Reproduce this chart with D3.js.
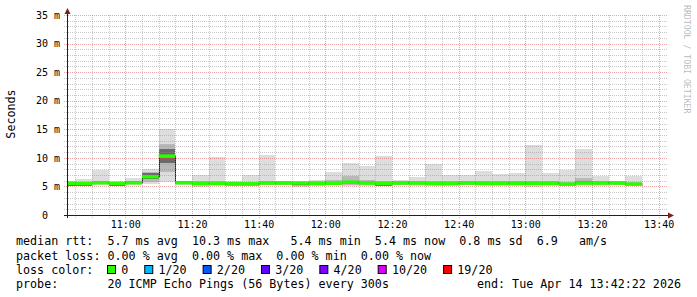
<!DOCTYPE html>
<html>
<head>
<meta charset="utf-8">
<script src="https://cdn.jsdelivr.net/npm/d3@7"></script>
<style>
  body { margin: 0; background: #fff; }
  svg { display: block; }
  text { font-family: "DejaVu Sans Mono", monospace; fill: #000; }
  .legend { font-size: 11.7px; white-space: pre; }
  .tick text { font-size: 10px; white-space: pre; }
</style>
</head>
<body>
<div id="chart"></div>
<script>
// SmokePing style latency graph, 5 minute steps, 20 pings per step
const day = "2026-04-14 ";
const viewStart = "10:42:30";
const viewEnd   = "13:42:30";

const times = ["10:40","10:45","10:50","10:55","11:00","11:05","11:10","11:15","11:20","11:25",
               "11:30","11:35","11:40","11:45","11:50","11:55","12:00","12:05","12:10","12:15",
               "12:20","12:25","12:30","12:35","12:40","12:45","12:50","12:55","13:00","13:05",
               "13:10","13:15","13:20","13:25","13:30"];

// values in ms
const median   = [5.55,5.5,5.65,5.5,5.65,6.7,10.3,5.65,5.5,5.5,5.45,5.45,5.6,5.6,5.6,5.5,5.55,5.75,5.6,5.5,
                  5.6,5.6,5.5,5.5,5.6,5.55,5.55,5.55,5.55,5.55,5.4,5.6,5.6,5.6,5.4];
const smokeMin = [5.1,5.1,5.2,5.1,5.25,5.5,5.8,5.25,4.95,5.2,5.15,5.15,5.2,5.2,4.9,5.0,5.2,5.1,5.15,5.0,
                  5.2,5.1,5.05,5.1,5.2,5.15,5.15,5.15,4.95,5.15,5.1,5.05,5.05,5.2,5.15];
const smokeP10 = [5.1,5.1,5.35,5.1,5.35,5.85,7.6,5.35,5.2,5.2,5.15,5.15,5.3,5.3,5.1,5.2,5.25,5.3,5.3,5.0,
                  5.3,5.3,5.2,5.2,5.3,5.25,5.25,5.25,5.2,5.25,5.15,5.2,5.2,5.3,5.2];
const smokeP25 = [5.15,5.15,5.5,5.15,5.5,6.35,9.05,5.5,5.35,5.35,5.3,5.3,5.45,5.45,5.3,5.35,5.4,5.5,5.45,5.05,
                  5.45,5.45,5.35,5.35,5.45,5.4,5.4,5.4,5.35,5.4,5.25,5.35,5.35,5.45,5.3];
const smokeP75 = [5.7,5.65,5.8,5.65,5.8,7.35,11.55,5.8,5.65,5.65,5.6,5.6,5.75,5.75,5.75,5.65,5.7,5.9,5.75,5.65,
                  5.75,5.75,5.65,5.65,5.75,5.7,5.7,5.7,5.7,5.7,5.55,5.9,5.75,5.75,5.55];
const smokeP90 = [5.8,5.8,6.0,5.8,6.0,7.6,12.5,5.8,5.9,5.9,5.8,5.8,5.95,5.9,5.85,5.9,6.2,6.8,6.1,5.9,
                  5.9,5.9,6.0,5.9,5.9,5.9,5.9,5.9,6.0,5.9,5.7,6.5,5.95,5.9,5.7];
const smokeMax = [5.9,6.3,7.9,6.0,6.4,8.0,15.1,5.8,7.0,10.15,5.95,7.0,10.5,5.9,5.85,6.1,7.6,9.15,8.6,10.4,
                  6.1,6.7,8.9,7.0,7.0,7.7,7.1,7.3,12.25,7.3,7.9,11.55,6.9,5.95,6.9];

const yTicks = [0, 5, 10, 15, 20, 25, 30, 35];

const legendLines = [
  "median rtt:  5.7 ms avg  10.3 ms max   5.4 ms min  5.4 ms now  0.8 ms sd  6.9   am/s",
  "packet loss: 0.00 % avg  0.00 % max  0.00 % min  0.00 % now"
];
const lossLabels = ["0", "1/20", "2/20", "3/20", "4/20", "10/20", "19/20"];
const lossColors = ["#26ff00", "#00b8ff", "#0059ff", "#5e00ff", "#7e00ff", "#dd00ff", "#ff0000"];
const probeText = "probe:       20 ICMP Echo Pings (56 Bytes) every 300s";
const endText = "end: Tue Apr 14 13:42:22 2026";

const width = 697, height = 297;
const plotL = 67, plotR = 667, plotT = 15, plotB = 215;
const charW = 7.04;

const parse = d3.timeParse("%Y-%m-%d %H:%M:%S");
const x = d3.scaleTime()
  .domain([parse(day + viewStart), parse(day + viewEnd)])
  .range([plotL, plotR]);
const y = d3.scaleLinear().domain([0, 35]).range([plotB, plotT]);

const steps = times.map((t, i) => {
  const t0 = parse(day + t + ":00");
  return {
    t0, t1: d3.timeMinute.offset(t0, 5),
    med: median[i], min: smokeMin[i], p10: smokeP10[i], p25: smokeP25[i],
    p75: smokeP75[i], p90: smokeP90[i], max: smokeMax[i]
  };
});

const svg = d3.select("#chart").append("svg")
  .attr("width", width).attr("height", height);

svg.append("defs").append("clipPath").attr("id", "plotclip")
  .append("rect").attr("x", plotL).attr("y", 0).attr("width", plotR - plotL).attr("height", plotB);

const g = svg.append("g").attr("clip-path", "url(#plotclip)");

// smoke bands, outer to inner
const bands = [
  { lo: "min", hi: "max", color: "#dddddd" },
  { lo: "p10", hi: "p90", color: "#b9b9b9" },
  { lo: "p25", hi: "p75", color: "#6a6a6a" }
];
bands.forEach(b => {
  g.selectAll(null).data(steps).enter().append("rect")
    .attr("x", d => x(d.t0))
    .attr("width", d => x(d.t1) - x(d.t0))
    .attr("y", d => y(d[b.hi]))
    .attr("height", d => y(d[b.lo]) - y(d[b.hi]))
    .attr("fill", b.color)
    .attr("shape-rendering", "crispEdges");
});

// thin dark median line (shows the step changes)
const medPts = steps.map(d => [d.t0, d.med]);
medPts.push([steps[steps.length - 1].t1, steps[steps.length - 1].med]);
g.append("path")
  .datum(medPts)
  .attr("d", d3.line().x(d => Math.round(x(d[0])) + 0.5).y(d => y(d[1])).curve(d3.curveStepAfter))
  .attr("fill", "none")
  .attr("stroke", "#202020")
  .attr("stroke-width", 1);

// median band coloured by loss (all 0 loss)
g.selectAll(null).data(steps).enter().append("rect")
  .attr("x", d => x(d.t0))
  .attr("width", d => x(d.t1) - x(d.t0))
  .attr("y", d => y(d.med) - 1.75)
  .attr("height", 3.5)
  .attr("fill", lossColors[0]);

// grid
const grid = svg.append("g").attr("shape-rendering", "crispEdges");
const xMajor = x.ticks(d3.timeMinute.every(20));
const xMinor = x.ticks(d3.timeMinute.every(5)).filter(t => t.getMinutes() % 20 !== 0);
const yMinor = d3.range(1, 36).filter(v => v % 5 !== 0);

function vLines(data, color, op) {
  grid.selectAll(null).data(data).enter().append("line")
    .attr("x1", d => Math.round(x(d)) + 0.5).attr("x2", d => Math.round(x(d)) + 0.5)
    .attr("y1", plotB + 3).attr("y2", plotT)
    .attr("stroke", color).attr("stroke-opacity", op).attr("stroke-dasharray", "1,1");
}
function hLines(data, color, op) {
  grid.selectAll(null).data(data).enter().append("line")
    .attr("y1", d => Math.round(y(d)) + 0.5).attr("y2", d => Math.round(y(d)) + 0.5)
    .attr("x1", plotL - 3).attr("x2", plotR)
    .attr("stroke", color).attr("stroke-opacity", op).attr("stroke-dasharray", "1,1");
}
vLines(xMinor, "#8f8f8f", 0.5);
hLines(yMinor, "#8f8f8f", 0.5);
vLines(xMajor, "#de4f4f", 0.5);
hLines(yTicks.filter(v => v > 0), "#de4f4f", 0.5);

// axes lines and arrows
const axisCol = "#1f1f1f", arrowCol = "#801f1f";
svg.append("line").attr("x1", plotL + 0.5).attr("x2", plotL + 0.5).attr("y1", plotB + 3).attr("y2", 12)
  .attr("stroke", axisCol).attr("shape-rendering", "crispEdges");
svg.append("line").attr("x1", plotL - 3).attr("x2", 669).attr("y1", plotB + 0.5).attr("y2", plotB + 0.5)
  .attr("stroke", axisCol).attr("shape-rendering", "crispEdges");
svg.append("path").attr("d", `M${plotL + 0.5},8 L${plotL - 2.5},14 L${plotL + 3.5},14 Z`).attr("fill", arrowCol);
svg.append("path").attr("d", `M674,${plotB + 0.5} L668,${plotB - 2.5} L668,${plotB + 3.5} Z`).attr("fill", arrowCol);

// tick labels
const xAxis = svg.append("g").attr("transform", `translate(0,${plotB})`)
  .call(d3.axisBottom(x).tickValues(xMajor).tickFormat(d3.timeFormat("%H:%M")).tickSize(0).tickPadding(6));
const yAxis = svg.append("g").attr("transform", `translate(${plotL},0)`)
  .call(d3.axisLeft(y).tickValues(yTicks).tickFormat(d => d === 0 ? "0  " : d + " m").tickSize(0).tickPadding(7));
[xAxis, yAxis].forEach(a => { a.select(".domain").remove(); a.selectAll("text").attr("fill", "#000"); });

// unit label
svg.append("text").attr("class", "legend")
  .attr("transform", "translate(11,114) rotate(-90)")
  .attr("text-anchor", "middle").attr("dominant-baseline", "central")
  .text("Seconds");

// watermark
svg.append("text")
  .attr("transform", "translate(684,5) rotate(90)")
  .style("font-size", "8.2px").style("fill", "rgba(0,0,0,0.3)")
  .text("RRDTOOL / TOBI OETIKER");

// legend
const legendX = 16;
const baselines = [245, 259.5, 273.5, 288];
legendLines.forEach((s, i) => {
  svg.append("text").attr("class", "legend").attr("x", legendX).attr("y", baselines[i]).text(s);
});
svg.append("text").attr("class", "legend").attr("x", legendX).attr("y", baselines[2]).text("loss color:");
let bx = legendX + 13 * charW - 0.5;
lossLabels.forEach((lab, i) => {
  svg.append("rect").attr("x", bx + 0.5).attr("y", 265.5).attr("width", 8).attr("height", 8)
    .attr("fill", lossColors[i]).attr("stroke", "#000").attr("stroke-width", 1);
  svg.append("text").attr("class", "legend").attr("x", bx + 14.2).attr("y", baselines[2]).text(lab);
  bx += 14.2 + lab.length * charW + 16;
});
svg.append("text").attr("class", "legend").attr("x", legendX).attr("y", baselines[3]).text(probeText);
svg.append("text").attr("class", "legend").attr("x", 681).attr("y", baselines[3])
  .attr("text-anchor", "end").text(endText);
</script>
</body>
</html>
